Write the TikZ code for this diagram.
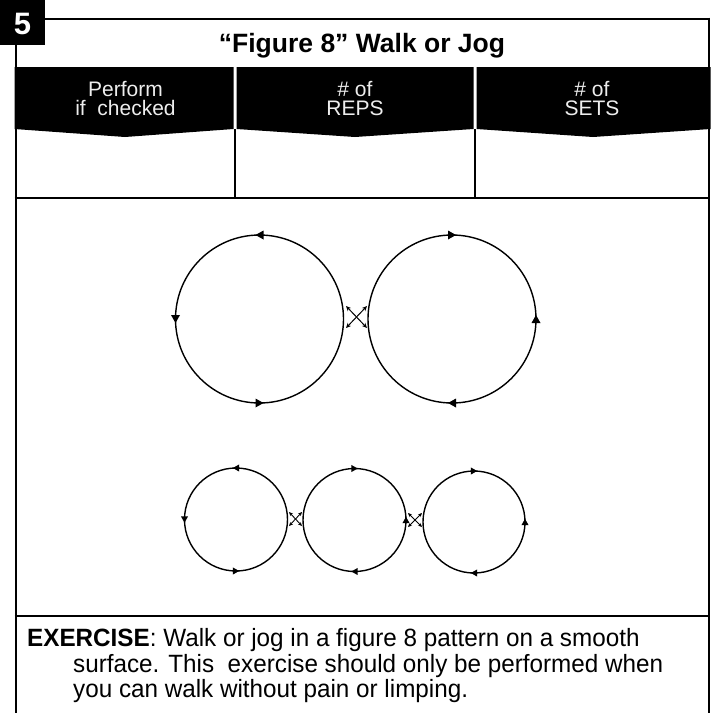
\documentclass[tikz,border=0pt]{standalone}
\usepackage{fontspec}
\setmainfont{Liberation Sans}
\newfontfamily\bodyfont[FakeStretch=0.97]{Liberation Sans}
\usetikzlibrary{arrows.meta}
\begin{document}
\begin{tikzpicture}[x=1pt,y=-1pt,
  frameline/.style={line width=2.6pt, black},
  loop/.style={circle, draw, line width=1.4pt, inner sep=0pt, outer sep=0pt},
  cross/.style={line width=1pt, {Stealth[length=5pt,width=4.5pt]}-{Stealth[length=5pt,width=4.5pt]}},
  smallcross/.style={line width=0.9pt, {Stealth[length=4pt,width=3.6pt]}-{Stealth[length=4pt,width=3.6pt]}},
  hdr/.style={font=\fontsize{21}{24}\selectfont, text=white!93!black, anchor=base, inner sep=0pt},
  body/.style={font=\bodyfont\fontsize{25}{27}\selectfont, anchor=base west, inner sep=0pt},
  tipL/.pic={\fill (-4,0) -- (4,-4.5) -- (4,4.5) -- cycle;},
  tipR/.pic={\fill (4,0) -- (-4,-4.5) -- (-4,4.5) -- cycle;},
  tipD/.pic={\fill (0,4) -- (-4.5,-4) -- (4.5,-4) -- cycle;},
  tipU/.pic={\fill (0,-4) -- (-4.5,4) -- (4.5,4) -- cycle;},
]
\useasboundingbox (0,0) rectangle (712,713);

% black header blocks with shallow pointed bottoms
\fill (14.5,67) -- (233.5,67) -- (233.5,129) -- (125,137) -- (14.5,129) -- cycle;
\fill (236.5,67) -- (473.5,67) -- (473.5,129) -- (355,137) -- (236.5,129) -- cycle;
\fill (476.5,67) -- (710.5,67) -- (710.5,129) -- (593,137) -- (476.5,129) -- cycle;

% frame
\draw[frameline] (16,45) -- (16,713);
\draw[frameline] (709,17.5) -- (709,713);
\draw[frameline] (45,19) -- (710.3,19);
\draw[frameline] (14.7,198) -- (710.3,198);
\draw[frameline] (14.7,616) -- (710.3,616);
\draw[frameline] (235,129) -- (235,198);
\draw[frameline] (475,129) -- (475,198);

% badge
\fill (0,0) rectangle (45,45);
\node[font=\bfseries\fontsize{31}{31}\selectfont, text=white, inner sep=0pt] (badge) at (22.5,24) {5};

% title
\node[font=\bfseries\fontsize{26.5}{28}\selectfont, anchor=base, inner sep=0pt] (title) at (362,52) {“Figure 8” Walk or Jog};

% header texts
\node[hdr] (h1a) at (125.5,96) {Perform};
\node[hdr] (h1b) at (125.5,115) {if\ \ checked};
\node[hdr] (h2a) at (355,96) {\# of};
\node[hdr] (h2b) at (355,115) {REPS};
\node[hdr] (h3a) at (592,96) {\# of};
\node[hdr] (h3b) at (592,115) {SETS};

% big figure 8
\node[loop, minimum size=168pt] (L) at (259.5,319) {};
\node[loop, minimum size=168pt] (R) at (452,319) {};
\pic at (L.north) {tipL};
\pic at (L.west) {tipD};
\pic at (L.south) {tipR};
\pic at (R.north) {tipR};
\pic at (R.east) {tipU};
\pic at (R.south) {tipL};
\coordinate (xa1) at (346,306);
\coordinate (xa2) at (367,328);
\coordinate (xb1) at (346,328);
\coordinate (xb2) at (367,306);
\draw[cross] (xa1) -- (xa2);
\draw[cross] (xb1) -- (xb2);

% small triple loop
\node[loop, minimum size=103pt] (s1) at (236,519.5) {};
\node[loop, minimum size=103pt] (s2) at (354.5,520) {};
\node[loop, minimum size=102pt] (s3) at (474,522) {};
\pic[scale=0.8] at (s1.north) {tipL};
\pic[scale=0.8] at (s1.west) {tipD};
\pic[scale=0.8] at (s1.south) {tipR};
\pic[scale=0.8] at (s2.north) {tipR};
\pic[scale=0.8] at (s2.east) {tipU};
\pic[scale=0.8] at (s2.south) {tipL};
\pic[scale=0.8] at (s3.north) {tipR};
\pic[scale=0.8] at (s3.east) {tipU};
\pic[scale=0.8] at (s3.south) {tipL};
\coordinate (ya1) at (289,512);
\coordinate (ya2) at (302,526);
\coordinate (yb1) at (289,526);
\coordinate (yb2) at (302,512);
\draw[smallcross] (ya1) -- (ya2);
\draw[smallcross] (yb1) -- (yb2);
\coordinate (za1) at (408,513);
\coordinate (za2) at (422,527);
\coordinate (zb1) at (408,527);
\coordinate (zb2) at (422,513);
\draw[smallcross] (za1) -- (za2);
\draw[smallcross] (zb1) -- (zb2);

% exercise text
\node[body] (t1) at (27,646) {\textbf{EXERCISE}: Walk or jog in a figure 8 pattern on a smooth};
\node[body] (t2) at (73,672) {surface. This\ \ exercise should only be performed when};
\node[body] (t3) at (73,697) {you can walk without pain or limping.};
\end{tikzpicture}
\end{document}
